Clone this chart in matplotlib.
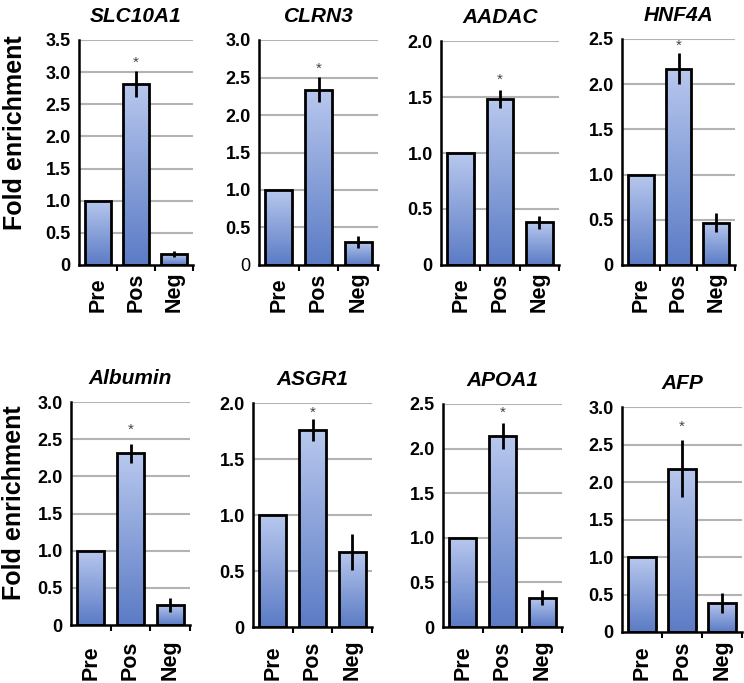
import numpy as np
import matplotlib
matplotlib.use('Agg')
import matplotlib.pyplot as plt
from matplotlib.colors import LinearSegmentedColormap
from matplotlib.ticker import FixedLocator
from matplotlib.transforms import blended_transform_factory

plt.rcParams['font.family'] = ['Liberation Sans', 'DejaVu Sans']

groups = ['Pre', 'Pos', 'Neg']
genes = ['SLC10A1', 'CLRN3', 'AADAC', 'HNF4A', 'Albumin', 'ASGR1', 'APOA1', 'AFP']
means = [[1.0, 2.82, 0.17],
         [1.0, 2.34, 0.31],
         [1.0, 1.48, 0.38],
         [1.0, 2.17, 0.47],
         [1.0, 2.31, 0.27],
         [1.0, 1.76, 0.67],
         [1.0, 2.14, 0.33],
         [1.0, 2.18, 0.39]]
errs = [[0, 0.20, 0.05],
        [0, 0.17, 0.08],
        [0, 0.08, 0.06],
        [0, 0.17, 0.10],
        [0, 0.13, 0.09],
        [0, 0.10, 0.16],
        [0, 0.15, 0.08],
        [0, 0.38, 0.13]]
ymax = [3.5, 3.0, 2.0, 2.5, 3.0, 2.0, 2.5, 3.0]
star_y = [3.15, 2.62, 1.65, 2.43, 2.62, 1.91, 2.40, 2.73]

W, H = 744, 683
fig = plt.figure(figsize=(W / 100, H / 100), dpi=100)

# axes boxes in pixels: left, top, right, bottom
boxes = [(79, 40, 193, 265), (259, 40, 378, 265), (441, 41, 559, 265), (622, 39, 735, 265),
         (71, 402, 190, 625), (253, 403, 372, 627), (443, 404, 562, 627), (622, 407, 742, 632)]
label_base = [312, 680]  # pixel row where the rotated group labels start
ylab_xy = [(-0.46, 0.59), (-0.38, 0.55)]

cmap = LinearSegmentedColormap.from_list('bar', ['#5b7bc5', '#b8c8ee'])
grad = np.linspace(0, 1, 256).reshape(-1, 1)

for i, gene in enumerate(genes):
    l, t, r, b = boxes[i]
    ax = fig.add_axes([l / W, 1 - b / H, (r - l) / W, (b - t) / H])
    x = np.arange(len(groups))
    bars = ax.bar(x, means[i], width=0.68, facecolor='none', edgecolor='black', linewidth=2, zorder=3)
    for bar in bars:
        x0, y0 = bar.get_x(), bar.get_y()
        im = ax.imshow(grad, cmap=cmap, origin='lower', aspect='auto', zorder=2,
                       extent=[x0, x0 + bar.get_width(), y0, y0 + bar.get_height()])
        im.set_clip_path(bar)
    ax.errorbar(x[1:], means[i][1:], yerr=errs[i][1:], fmt='none', ecolor='black',
                elinewidth=2, capsize=0, zorder=4)
    ax.text(1, star_y[i], '*', ha='center', va='center', fontsize=11, color='#444444')

    ax.set_xlim(-0.5, 2.5)
    ax.set_ylim(0, ymax[i])
    yt = np.arange(0, ymax[i] + 0.01, 0.5)
    ax.set_yticks(yt)
    ax.set_yticklabels(['0'] + ['%.1f' % v for v in yt[1:]], fontsize=13, fontweight='bold')
    if gene == 'CLRN3':
        ax.get_yticklabels()[0].set_fontweight('normal')
    for v in yt[1:]:
        ax.axhline(v, color='#b3b3b3', linewidth=1.5, zorder=1)
    ax.tick_params(axis='y', length=0, pad=6)
    ax.set_xticks([])
    ax.xaxis.set_minor_locator(FixedLocator([0.5, 1.5, 2.5]))
    ax.tick_params(axis='x', which='minor', length=4, width=1.5, direction='out')
    # group labels: rotated, starts aligned on a common row (Excel style)
    tr = blended_transform_factory(ax.transData, fig.transFigure)
    yb = 1 - label_base[i // 4] / H
    for xi, g in zip(x, groups):
        ax.text(xi, yb, g, transform=tr, rotation=90, ha='center', va='bottom',
                fontsize=15.5, fontweight='bold')
    for s in ['top', 'right']:
        ax.spines[s].set_visible(False)
    ax.spines['left'].set_linewidth(1.8)
    ax.spines['bottom'].set_linewidth(1.8)
    ax.set_title(gene, fontsize=15, fontweight='bold', fontstyle='italic', pad=13)
    if i % 4 == 0:
        ax.set_ylabel('Fold enrichment', fontsize=18, fontweight='bold')
        ax.yaxis.set_label_coords(*ylab_xy[i // 4])

fig.savefig('out.png', dpi=100)
plt.close()
